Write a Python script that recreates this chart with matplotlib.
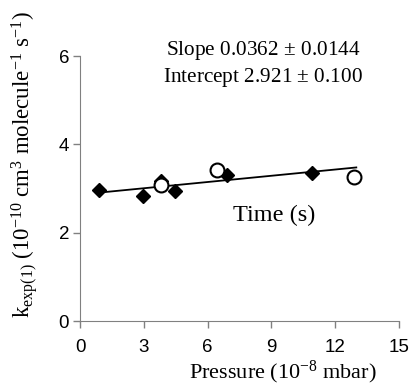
import numpy as np
import matplotlib.pyplot as plt

plt.rcParams['mathtext.fontset'] = 'custom'
plt.rcParams['mathtext.rm'] = 'Liberation Serif'
plt.rcParams['mathtext.it'] = 'Liberation Serif:italic'

# data
diamond_x = [0.9, 2.95, 3.8, 4.45, 6.9, 10.9]
diamond_y = [2.97, 2.83, 3.17, 2.94, 3.30, 3.35]
circle_x = [3.8, 6.45, 12.9]
circle_y = [3.08, 3.42, 3.26]
fit_x = [1.1, 13.0]
fit_y = [2.92, 3.48]

x_ticks = [0, 3, 6, 9, 12, 15]
y_ticks = [0, 2, 4, 6]

fig = plt.figure(figsize=(4.09, 3.87), dpi=100)
ax = fig.add_axes([0.196, 0.17, 0.779, 0.685])

ax.plot(fit_x, fit_y, color='black', lw=1.3)
ax.plot(diamond_x, diamond_y, 'D', color='black', ms=7, zorder=3)
ax.plot(circle_x, circle_y, 'o', mfc='white', mec='black', mew=1.5, ms=10, zorder=4)

ax.set_xlim(0, 15)
ax.set_ylim(0, 6)
ax.set_xticks(x_ticks)
ax.set_yticks(y_ticks)
for s in ['top', 'right']:
    ax.spines[s].set_visible(False)
for s in ['left', 'bottom']:
    ax.spines[s].set_color('#808080')
ax.tick_params(colors='#808080', labelcolor='black', length=5, width=1,
               labelsize=13.5, direction='out')
ax.tick_params(axis='x', pad=8)
ax.tick_params(axis='y', pad=3)
for lab in ax.get_xticklabels() + ax.get_yticklabels():
    lab.set_family('Liberation Sans')

ax.set_xlabel(r'Pressure (10$^{-8}$ mbar)', family='Liberation Serif', fontsize=16)
ax.xaxis.set_label_coords(0.636, -0.14)
ax.set_ylabel(r'k$_{\mathrm{exp(1)}}$ (10$^{-10}$ cm$^{3}$ molecule$^{-1}$ s$^{-1}$)',
              family='Liberation Serif', fontsize=16.5)
ax.yaxis.set_label_coords(-0.125, 0.59)

ax.text(0.574, 1.022, 'Slope 0.0362 $\\pm$ 0.0144', transform=ax.transAxes,
        family='Liberation Serif', fontsize=15.3, ha='center', va='center')
ax.text(0.574, 0.92, 'Intercept 2.921 $\\pm$ 0.100', transform=ax.transAxes,
        family='Liberation Serif', fontsize=15.3, ha='center', va='center')
ax.text(0.608, 0.40, 'Time (s)', transform=ax.transAxes,
        family='Liberation Serif', fontsize=17.5, ha='center', va='center')

fig.savefig('out.png', dpi=100)
